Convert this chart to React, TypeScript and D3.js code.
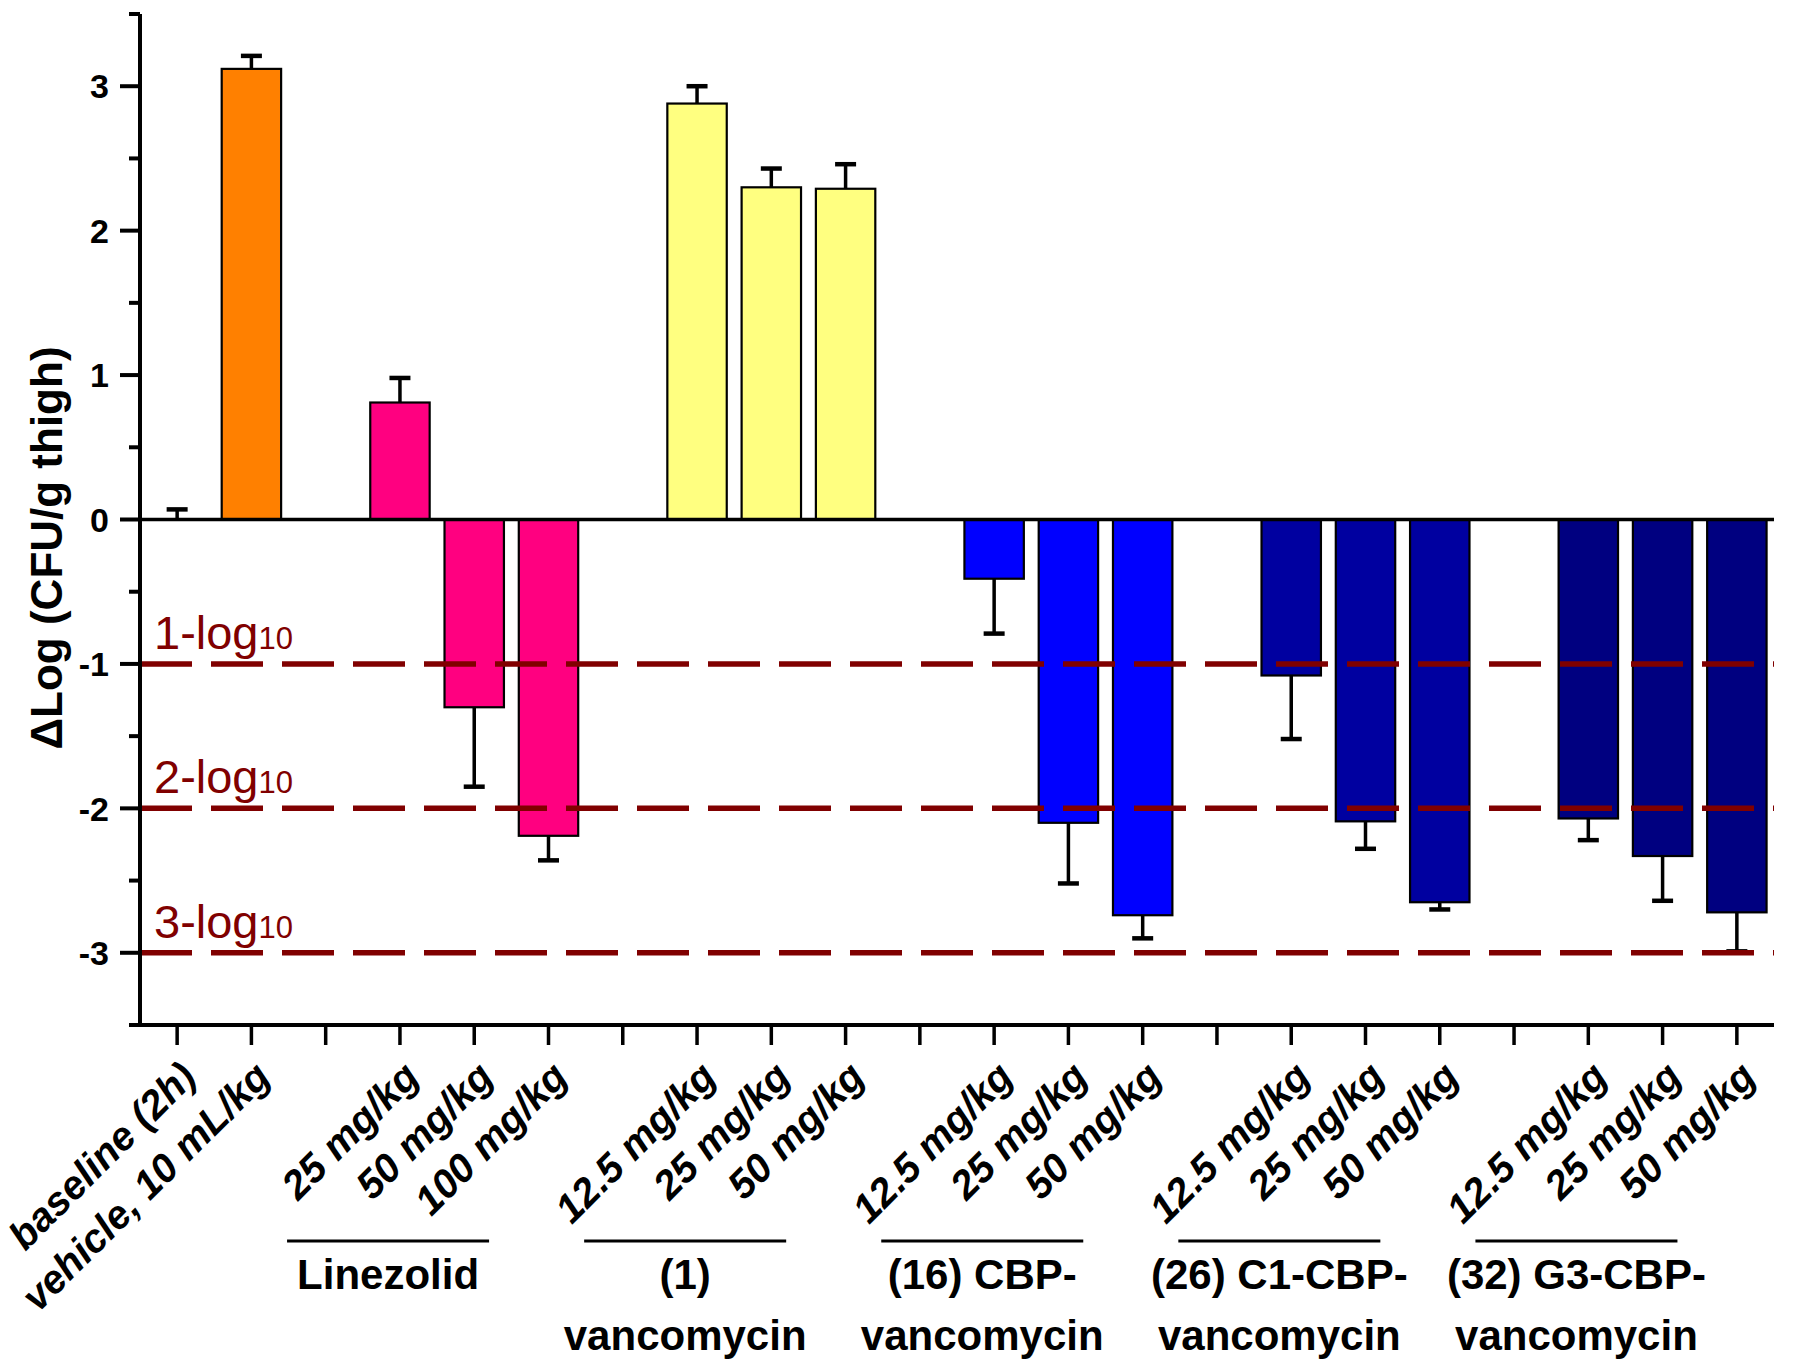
import React from 'react';
import * as d3 from 'd3';

const categories = [
  'baseline (2h)', 'vehicle, 10 mL/kg', '',
  '25 mg/kg', '50 mg/kg', '100 mg/kg', '',
  '12.5 mg/kg', '25 mg/kg', '50 mg/kg', '',
  '12.5 mg/kg', '25 mg/kg', '50 mg/kg', '',
  '12.5 mg/kg', '25 mg/kg', '50 mg/kg', '',
  '12.5 mg/kg', '25 mg/kg', '50 mg/kg',
];
const values: (number | null)[] = [
  0, 3.12, null,
  0.81, -1.30, -2.19, null,
  2.88, 2.30, 2.29, null,
  -0.41, -2.10, -2.74, null,
  -1.08, -2.09, -2.65, null,
  -2.07, -2.33, -2.72,
];
const errors: (number | null)[] = [
  0.07, 0.09, null,
  0.17, 0.55, 0.17, null,
  0.12, 0.13, 0.17, null,
  0.38, 0.42, 0.16, null,
  0.44, 0.19, 0.05, null,
  0.15, 0.31, 0.27,
];
const seriesKey = [
  'baseline', 'vehicle', '',
  'linezolid', 'linezolid', 'linezolid', '',
  'vanco', 'vanco', 'vanco', '',
  'cbp', 'cbp', 'cbp', '',
  'c1', 'c1', 'c1', '',
  'g3', 'g3', 'g3',
];
const seriesColors: Record<string, string> = {
  baseline: '#FF8000',
  vehicle: '#FF8000',
  linezolid: '#FF0080',
  vanco: '#FFFF80',
  cbp: '#0000FF',
  c1: '#0000A0',
  g3: '#000080',
};
const groups = [
  { lines: ['Linezolid'], from: 3, to: 5 },
  { lines: ['(1)', 'vancomycin'], from: 7, to: 9 },
  { lines: ['(16) CBP-', 'vancomycin'], from: 11, to: 13 },
  { lines: ['(26) C1-CBP-', 'vancomycin'], from: 15, to: 17 },
  { lines: ['(32) G3-CBP-', 'vancomycin'], from: 19, to: 21 },
];
const thresholds = [
  { value: -1, label: '1-log', sub: '10' },
  { value: -2, label: '2-log', sub: '10' },
  { value: -3, label: '3-log', sub: '10' },
];
const yMajorTicks = [-3, -2, -1, 0, 1, 2, 3];
const yMinorTicks = [-3.5, -2.5, -1.5, -0.5, 0.5, 1.5, 2.5, 3.5];
const yTitle = 'ΔLog (CFU/g thigh)';

const W = 1800;
const H = 1370;
const left = 140;
const right = 1774;
const top = 14;
const bottom = 1025;
const FONT = '"Liberation Sans", Arial, Helvetica, sans-serif';

export default function App() {
  const x = d3.scaleLinear().domain([-0.5, categories.length - 0.5]).range([left, right]);
  const y = d3.scaleLinear().domain([-3.5, 3.5]).range([bottom, top]);
  const step = x(1) - x(0);
  const barW = step * 0.8;
  const capW = 21;

  return (
    <svg width={W} height={H} style={{ position: 'absolute', left: 0, top: 0, background: '#fff' }}
      fontFamily={FONT}>
      <rect x={0} y={0} width={W} height={H} fill="#fff" />
      {/* bars */}
      {values.map((v, i) => {
        if (v === null) return null;
        const y0 = y(0);
        const y1 = y(v);
        const h = Math.abs(y1 - y0);
        const e = errors[i] ?? 0;
        const tipY = y(v + (v >= 0 ? e : -e));
        const cx = x(i);
        return (
          <g key={i}>
            {h > 0.5 && (
              <rect x={cx - barW / 2} y={Math.min(y0, y1)} width={barW} height={h}
                fill={seriesColors[seriesKey[i]]} stroke="#000" strokeWidth={2.2} />
            )}
            <line x1={cx} x2={cx} y1={y1} y2={tipY} stroke="#000" strokeWidth={3.5} />
            <line x1={cx - capW / 2} x2={cx + capW / 2} y1={tipY} y2={tipY} stroke="#000" strokeWidth={4.5} />
          </g>
        );
      })}
      {/* threshold dashed lines */}
      {thresholds.map((t, i) => (
        <g key={i}>
          <line x1={left} x2={right} y1={y(t.value)} y2={y(t.value)} stroke="#800000"
            strokeWidth={5.5} strokeDasharray="52 19" />
          <text x={left + 14} y={y(t.value) - 15} fill="#800000" fontSize={47}>
            {t.label}
            <tspan fontSize={31}>{t.sub}</tspan>
          </text>
        </g>
      ))}
      {/* zero line */}
      <line x1={left} x2={right} y1={y(0)} y2={y(0)} stroke="#000" strokeWidth={3.5} />
      {/* y axis */}
      <line x1={left} x2={left} y1={top} y2={bottom + 2} stroke="#000" strokeWidth={4} />
      {yMajorTicks.map((t) => (
        <g key={'M' + t}>
          <line x1={left - 20} x2={left} y1={y(t)} y2={y(t)} stroke="#000" strokeWidth={4} />
          <text x={left - 31} y={y(t)} dy="0.36em" textAnchor="end" fontSize={34} fontWeight="bold">
            {t}
          </text>
        </g>
      ))}
      {yMinorTicks.map((t) => (
        <line key={'m' + t} x1={left - 11} x2={left} y1={y(t)} y2={y(t)} stroke="#000" strokeWidth={4} />
      ))}
      <text transform={`translate(${62},${548}) rotate(-90)`} textAnchor="middle" fontSize={44} fontWeight="bold">
        {yTitle}
      </text>
      {/* x axis */}
      <line x1={left - 8} x2={right} y1={bottom} y2={bottom} stroke="#000" strokeWidth={4} />
      {categories.map((c, i) => (
        <g key={'xt' + i}>
          <line x1={x(i)} x2={x(i)} y1={bottom} y2={bottom + 20} stroke="#000" strokeWidth={3.5} />
          {c && (
            <text transform={`translate(${x(i) + 21},${1079}) rotate(-45)`} textAnchor="end"
              fontSize={40} fontWeight="bold" fontStyle="italic">
              {c}
            </text>
          )}
        </g>
      ))}
      {/* group labels */}
      {groups.map((g, i) => {
        const cx = x((g.from + g.to) / 2 - 1.16);
        const half = step * 1.36;
        return (
          <g key={'g' + i}>
            <line x1={cx - half} x2={cx + half} y1={1241} y2={1241} stroke="#000" strokeWidth={3} />
            {g.lines.map((l, j) => (
              <text key={j} x={cx} y={1289 + j * 61} textAnchor="middle" fontSize={42} fontWeight="bold"
                style={{ whiteSpace: 'pre' }}>
                {l}
              </text>
            ))}
          </g>
        );
      })}
    </svg>
  );
}
